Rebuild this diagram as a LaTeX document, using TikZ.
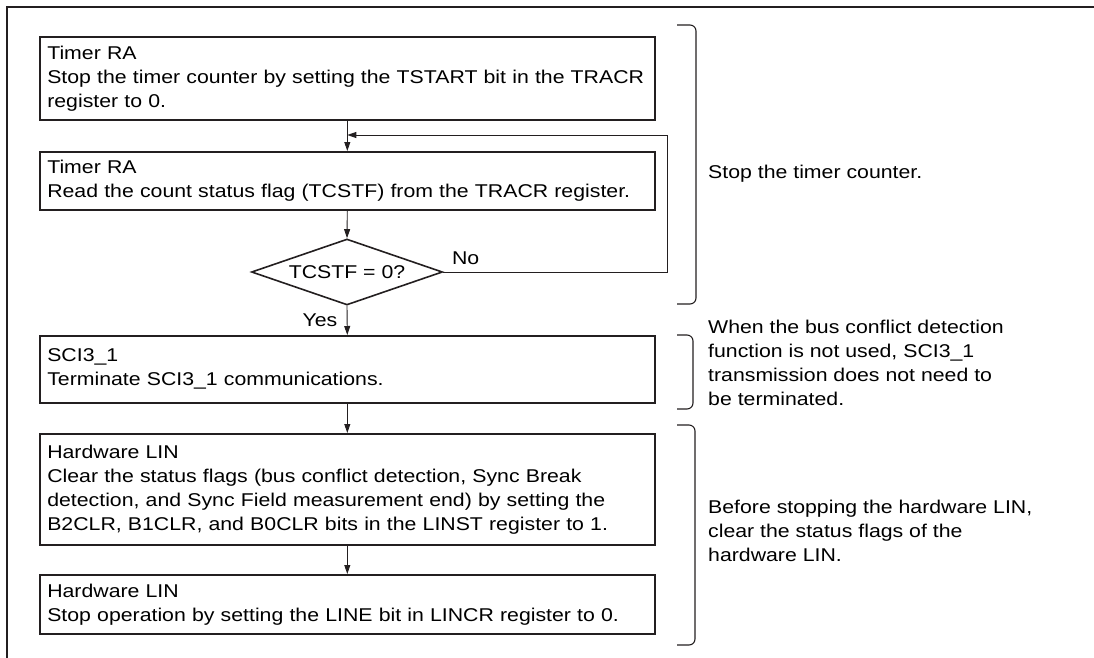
\documentclass[tikz,border=0pt]{standalone}
\usepackage{fontspec}
\setmainfont{Liberation Sans}[FakeStretch=1.15]
\usetikzlibrary{arrows.meta,positioning,shapes.geometric}
\definecolor{ink}{HTML}{231f20}

\begin{document}
\begin{tikzpicture}[x=1pt,y=-1pt,
  font=\fontsize{18.5}{24}\selectfont,
  stepbox/.style={draw=ink,line width=1.6pt,anchor=north west,text width=600pt,
    inner xsep=7.5pt,inner ysep=0pt,align=left},
  test/.style={draw=ink,line width=1.6pt,diamond,shape aspect=2.9,inner sep=0pt,
    minimum width=191pt,minimum height=66pt},
  flow/.style={draw=ink,line width=.9pt,-{Triangle[length=9pt,width=6pt]}},
  brace/.style={draw=ink,line width=1.1pt,rounded corners=6pt},
  note/.style={anchor=west,align=left,inner sep=0pt}]
  \useasboundingbox (0,0) rectangle (1094,658);
  % frame
  \draw[ink,line width=2.5pt] (7,658) -- (7,7) -- (1094,7);
  % flow
  \node[stepbox,minimum height=83pt] (stop) at (39,36)
    {Timer RA\\Stop the timer counter by setting the TSTART bit in the TRACR\\register to 0.};
  \node[stepbox,minimum height=58pt] (read) at (39,151)
    {Timer RA\\Read the count status flag (TCSTF) from the TRACR register.};
  \node[test] (dec) at (347,272) {TCSTF = 0?};
  \node[stepbox,minimum height=67pt] (sci) at (39,335)
    {SCI3\_1\\Terminate SCI3\_1 communications.};
  \node[stepbox,minimum height=111pt] (clr) at (39,433)
    {Hardware LIN\\Clear the status flags (bus conflict detection, Sync Break\\detection, and Sync Field measurement end) by setting the\\B2CLR, B1CLR, and B0CLR bits in the LINST register to 1.};
  \node[stepbox,minimum height=59pt] (off) at (39,574)
    {Hardware LIN\\Stop operation by setting the LINE bit in LINCR register to 0.};
  \coordinate (join) at (stop.south |- 0,135);
  \draw[flow] (stop.south) -- (read.north);
  \draw[flow] (read.south) -- (dec.north);
  \draw[flow] (dec.east) -- node[anchor=south,pos=.1,yshift=4pt]{No} ++(224,0) |- (join);
  \draw[flow] (dec.south) -- node[left,xshift=-6pt]{Yes} (sci.north);
  \draw[flow] (sci.south) -- (clr.north);
  \draw[flow] (clr.south) -- (off.north);
  % notes
  \foreach \t/\b/\x in {25/304/696,335/409/693,425/645/695}
    \draw[brace] (677,\t) -- (\x,\t) -- (\x,\b) -- (677,\b);
  \node[note] (n1) at (708,174) {Stop the timer counter.};
  \node[note] (n2) at (708,363) {When the bus conflict detection\\function is not used, SCI3\_1\\transmission does not need to\\be terminated.};
  \node[note] (n3) at (708,531) {Before stopping the hardware LIN,\\clear the status flags of the\\hardware LIN.};
\end{tikzpicture}
\end{document}
